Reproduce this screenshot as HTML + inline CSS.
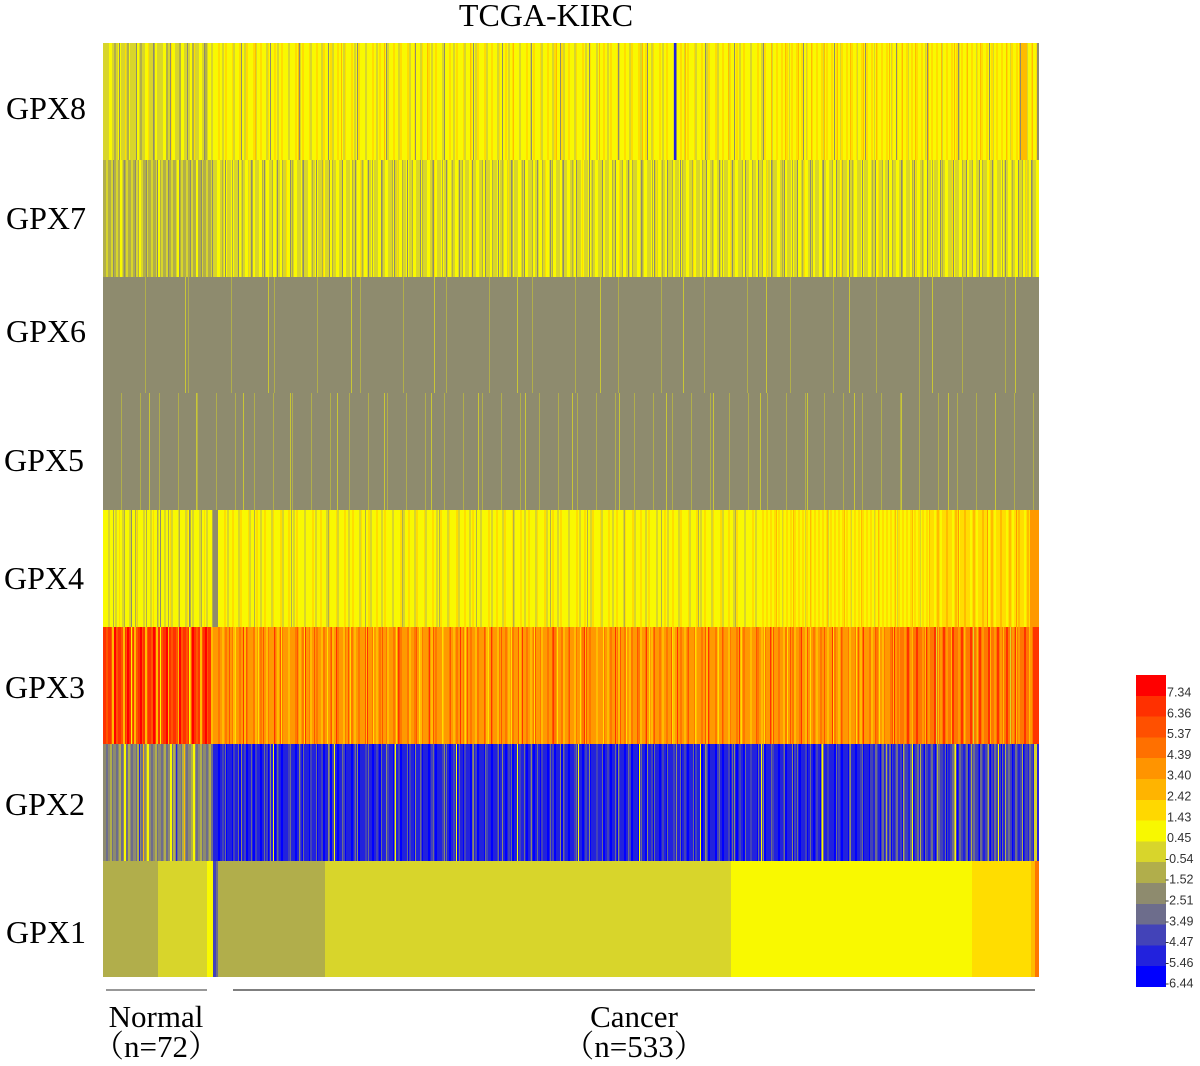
<!DOCTYPE html>
<html><head><meta charset="utf-8">
<style>
html,body{margin:0;padding:0;background:#fff;}
#wrap{position:relative;width:1200px;height:1066px;overflow:hidden;background:#fff;}
.s{position:absolute;}
svg{position:absolute;left:0;top:0;}
</style></head>
<body><div id="wrap">

<!-- GPX8 -->
<div class="s" style="left:103px;top:43px;width:110px;height:117px;background:
repeating-linear-gradient(90deg,transparent 0 22px,#ffdd00 22px 23px),
repeating-linear-gradient(90deg,transparent 0 16px,#8e8b6e 16px 17px),
repeating-linear-gradient(90deg,transparent 0 11px,#b1ae4b 11px 13px),
repeating-linear-gradient(90deg,transparent 0 6px,#f9f900 6px 9px),#d8d52b;"></div>
<div class="s" style="left:213px;top:43px;width:560px;height:117px;background:
repeating-linear-gradient(90deg,transparent 0 42px,#ffbb00 42px 43px),
repeating-linear-gradient(90deg,transparent 0 28px,#8e8b6e 28px 29px),
repeating-linear-gradient(90deg,transparent 0 9px,#d8d52b 9px 11px),
repeating-linear-gradient(90deg,transparent 0 5px,#ffdd00 5px 7px),#f9f900;"></div>
<div class="s" style="left:773px;top:43px;width:266px;height:117px;background:
repeating-linear-gradient(90deg,transparent 0 30px,#8e8b6e 30px 31px),
repeating-linear-gradient(90deg,transparent 0 16px,#d8d52b 16px 17px),
repeating-linear-gradient(90deg,transparent 0 12px,#ffbb00 12px 13px),
repeating-linear-gradient(90deg,transparent 0 3px,#ffdd00 3px 5px),#f9f900;"></div>
<div class="s" style="left:674px;top:43px;width:2px;height:117px;background:#2222dd;"></div>
<div class="s" style="left:1021px;top:43px;width:6px;height:117px;background:#ffbb00;"></div>
<div class="s" style="left:1037px;top:43px;width:2px;height:117px;background:#8e8b6e;"></div>

<!-- GPX7 -->
<div class="s" style="left:103px;top:160px;width:110px;height:117px;background:
repeating-linear-gradient(90deg,transparent 0 17px,#f9f900 17px 19px),
repeating-linear-gradient(90deg,transparent 0 10px,#8e8b6e 10px 11px),
repeating-linear-gradient(90deg,transparent 0 3px,#d8d52b 3px 5px),#b1ae4b;"></div>
<div class="s" style="left:213px;top:160px;width:826px;height:117px;background:
repeating-linear-gradient(90deg,transparent 0 36px,#ffdd00 36px 37px),
repeating-linear-gradient(90deg,transparent 0 12px,#8e8b6e 12px 13px),
repeating-linear-gradient(90deg,transparent 0 9px,#b1ae4b 9px 10px),
repeating-linear-gradient(90deg,transparent 0 4px,#f9f900 4px 7px),#d8d52b;"></div>

<!-- GPX6 -->
<div class="s" style="left:103px;top:277px;width:936px;height:116px;background:
repeating-linear-gradient(90deg,transparent 0 82px,#c9c636 82px 83px),
repeating-linear-gradient(90deg,transparent 0 42px,#b1ae4b 42px 43px),#8e8b6e;"></div>

<!-- GPX5 -->
<div class="s" style="left:103px;top:393px;width:936px;height:117px;background:
repeating-linear-gradient(90deg,transparent 0 46px,#c9c636 46px 47px),
repeating-linear-gradient(90deg,transparent 0 18px,#b1ae4b 18px 19px),#8e8b6e;"></div>

<!-- GPX4 -->
<div class="s" style="left:103px;top:510px;width:110px;height:117px;background:
repeating-linear-gradient(90deg,transparent 0 28px,#8e8b6e 28px 29px),
repeating-linear-gradient(90deg,transparent 0 16px,#ffdd00 16px 17px),
repeating-linear-gradient(90deg,transparent 0 10px,#b1ae4b 10px 11px),
repeating-linear-gradient(90deg,transparent 0 5px,#d8d52b 5px 7px),#f9f900;"></div>
<div class="s" style="left:213px;top:510px;width:5px;height:117px;background:#8e8b6e;"></div>
<div class="s" style="left:218px;top:510px;width:542px;height:117px;background:
repeating-linear-gradient(90deg,transparent 0 36px,#b1ae4b 36px 37px),
repeating-linear-gradient(90deg,transparent 0 9px,#d8d52b 9px 11px),
repeating-linear-gradient(90deg,transparent 0 6px,#ffdd00 6px 8px),#f9f900;"></div>
<div class="s" style="left:760px;top:510px;width:170px;height:117px;background:
repeating-linear-gradient(90deg,transparent 0 22px,#d8d52b 22px 23px),
repeating-linear-gradient(90deg,transparent 0 16px,#ffbb00 16px 17px),
repeating-linear-gradient(90deg,transparent 0 2px,#ffdd00 2px 4px),#f9f900;"></div>
<div class="s" style="left:930px;top:510px;width:100px;height:117px;background:
repeating-linear-gradient(90deg,transparent 0 28px,#ff9900 28px 29px),
repeating-linear-gradient(90deg,transparent 0 7px,#ffbb00 7px 9px),
repeating-linear-gradient(90deg,transparent 0 4px,#f9f900 4px 6px),#ffdd00;"></div>
<div class="s" style="left:1030px;top:510px;width:9px;height:117px;background:#ff9900;"></div>

<!-- GPX3 -->
<div class="s" style="left:103px;top:627px;width:110px;height:117px;background:
repeating-linear-gradient(90deg,transparent 0 28px,#f9f900 28px 29px),
repeating-linear-gradient(90deg,transparent 0 11px,#ff0000 11px 13px),
repeating-linear-gradient(90deg,transparent 0 9px,#ffbb00 9px 11px),
repeating-linear-gradient(90deg,transparent 0 3px,#ff5500 3px 5px),#ff3300;"></div>
<div class="s" style="left:213px;top:627px;width:687px;height:117px;background:
repeating-linear-gradient(90deg,transparent 0 30px,#ff3300 30px 31px),
repeating-linear-gradient(90deg,transparent 0 22px,#ffdd00 22px 23px),
repeating-linear-gradient(90deg,transparent 0 16px,#ff5500 16px 17px),
repeating-linear-gradient(90deg,transparent 0 9px,#ffbb00 9px 11px),
repeating-linear-gradient(90deg,transparent 0 5px,#ff7700 5px 7px),#ff9900;"></div>
<div class="s" style="left:900px;top:627px;width:134px;height:117px;background:
repeating-linear-gradient(90deg,transparent 0 36px,#d8d52b 36px 37px),
repeating-linear-gradient(90deg,transparent 0 12px,#ffbb00 12px 13px),
repeating-linear-gradient(90deg,transparent 0 7px,#ff3300 7px 9px),
repeating-linear-gradient(90deg,transparent 0 4px,#ff9900 4px 6px),#ff7700;"></div>
<div class="s" style="left:1034px;top:627px;width:5px;height:117px;background:#ff3300;"></div>

<!-- GPX2 -->
<div class="s" style="left:103px;top:744px;width:110px;height:117px;background:
repeating-linear-gradient(90deg,transparent 0 40px,#ffbb00 40px 41px),
repeating-linear-gradient(90deg,transparent 0 36px,#2222dd 36px 37px),
repeating-linear-gradient(90deg,transparent 0 21px,#f9f900 21px 23px),
repeating-linear-gradient(90deg,transparent 0 7px,#b1ae4b 7px 9px),
repeating-linear-gradient(90deg,transparent 0 3px,#6d6d8c 3px 5px),#8e8b6e;"></div>
<div class="s" style="left:213px;top:744px;width:657px;height:117px;background:
repeating-linear-gradient(90deg,transparent 0 60px,#f9f900 60px 61px),
repeating-linear-gradient(90deg,transparent 0 28px,#8e8b6e 28px 29px),
repeating-linear-gradient(90deg,transparent 0 12px,#6d6d8c 12px 13px),
repeating-linear-gradient(90deg,transparent 0 9px,#4343b8 9px 11px),
repeating-linear-gradient(90deg,transparent 0 5px,#0000ff 5px 7px),#2222dd;"></div>
<div class="s" style="left:870px;top:744px;width:164px;height:117px;background:
repeating-linear-gradient(90deg,transparent 0 42px,#f9f900 42px 43px),
repeating-linear-gradient(90deg,transparent 0 16px,#b1ae4b 16px 17px),
repeating-linear-gradient(90deg,transparent 0 10px,#0000ff 10px 11px),
repeating-linear-gradient(90deg,transparent 0 5px,#6d6d8c 5px 7px),
repeating-linear-gradient(90deg,transparent 0 3px,#2222dd 3px 5px),#4343b8;"></div>
<div class="s" style="left:1034px;top:744px;width:3px;height:117px;background:#d8d52b;"></div>
<div class="s" style="left:1037px;top:744px;width:2px;height:117px;background:#2222dd;"></div>

<!-- GPX1 -->
<div class="s" style="left:103px;top:861px;width:55px;height:116px;background:#b1ae4b;"></div>
<div class="s" style="left:158px;top:861px;width:49px;height:116px;background:#d8d52b;"></div>
<div class="s" style="left:207px;top:861px;width:6px;height:116px;background:#f9f900;"></div>
<div class="s" style="left:213px;top:861px;width:3px;height:116px;background:#4343b8;"></div>
<div class="s" style="left:216px;top:861px;width:2px;height:116px;background:#6d6d8c;"></div>
<div class="s" style="left:218px;top:861px;width:107px;height:116px;background:#b1ae4b;"></div>
<div class="s" style="left:325px;top:861px;width:406px;height:116px;background:#d8d52b;"></div>
<div class="s" style="left:731px;top:861px;width:241px;height:116px;background:#f9f900;"></div>
<div class="s" style="left:972px;top:861px;width:59px;height:116px;background:#ffdd00;"></div>
<div class="s" style="left:1031px;top:861px;width:4px;height:116px;background:#ffbb00;"></div>
<div class="s" style="left:1035px;top:861px;width:4px;height:116px;background:#ff7700;"></div>

<!-- Legend -->
<div class="s" style="left:1136px;top:675px;width:30px;height:312px;background:linear-gradient(180deg,
#ff0000 0 20.8px,#ff3000 20.8px 41.6px,#ff5000 41.6px 62.4px,#ff7000 62.4px 83.2px,#ff9400 83.2px 104px,
#ffb400 104px 124.8px,#ffd800 124.8px 145.6px,#f8f800 145.6px 166.4px,#d8d52b 166.4px 187.2px,#b1ae4b 187.2px 208px,
#8e8b6e 208px 228.8px,#6d6d8c 228.8px 249.6px,#4343b8 249.6px 270.4px,#2222dd 270.4px 291.2px,#0000ff 291.2px 312px);"></div>

<svg width="1200" height="1066" viewBox="0 0 1200 1066" xmlns="http://www.w3.org/2000/svg">
<g font-family="'Liberation Serif','Noto Serif CJK SC',serif" fill="#000">
<text x="546" y="26" font-size="32" text-anchor="middle">TCGA-KIRC</text>
<text x="6" y="119" font-size="32">GPX8</text>
<text x="6" y="229" font-size="32">GPX7</text>
<text x="6" y="342" font-size="32">GPX6</text>
<text x="4" y="471" font-size="32">GPX5</text>
<text x="4" y="589" font-size="32">GPX4</text>
<text x="5" y="698" font-size="32">GPX3</text>
<text x="5" y="815" font-size="32">GPX2</text>
<text x="6" y="943" font-size="32">GPX1</text>
<text x="156" y="1027" font-size="31" text-anchor="middle">Normal</text>
<text x="156" y="1057" font-size="31" text-anchor="middle">（n=72）</text>
<text x="634" y="1027" font-size="31" text-anchor="middle">Cancer</text>
<text x="634" y="1057" font-size="31" text-anchor="middle">（n=533）</text>
</g>
<line x1="106" y1="990" x2="207" y2="990" stroke="#777" stroke-width="1.5"/>
<line x1="233" y1="990" x2="1035" y2="990" stroke="#333" stroke-width="1.2"/>
<g font-family="'Liberation Sans',sans-serif" font-size="12.5" fill="#333">
<text x="1167" y="696.5">7.34</text>
<text x="1167" y="717.3">6.36</text>
<text x="1167" y="738.1">5.37</text>
<text x="1167" y="758.9">4.39</text>
<text x="1167" y="779.7">3.40</text>
<text x="1167" y="800.5">2.42</text>
<text x="1167" y="821.3">1.43</text>
<text x="1167" y="842.1">0.45</text>
<text x="1165" y="862.9">-0.54</text>
<text x="1165" y="883.7">-1.52</text>
<text x="1165" y="904.5">-2.51</text>
<text x="1165" y="925.3">-3.49</text>
<text x="1165" y="946.1">-4.47</text>
<text x="1165" y="966.9">-5.46</text>
<text x="1165" y="987.7">-6.44</text>
</g>
</svg>
</div></body></html>
